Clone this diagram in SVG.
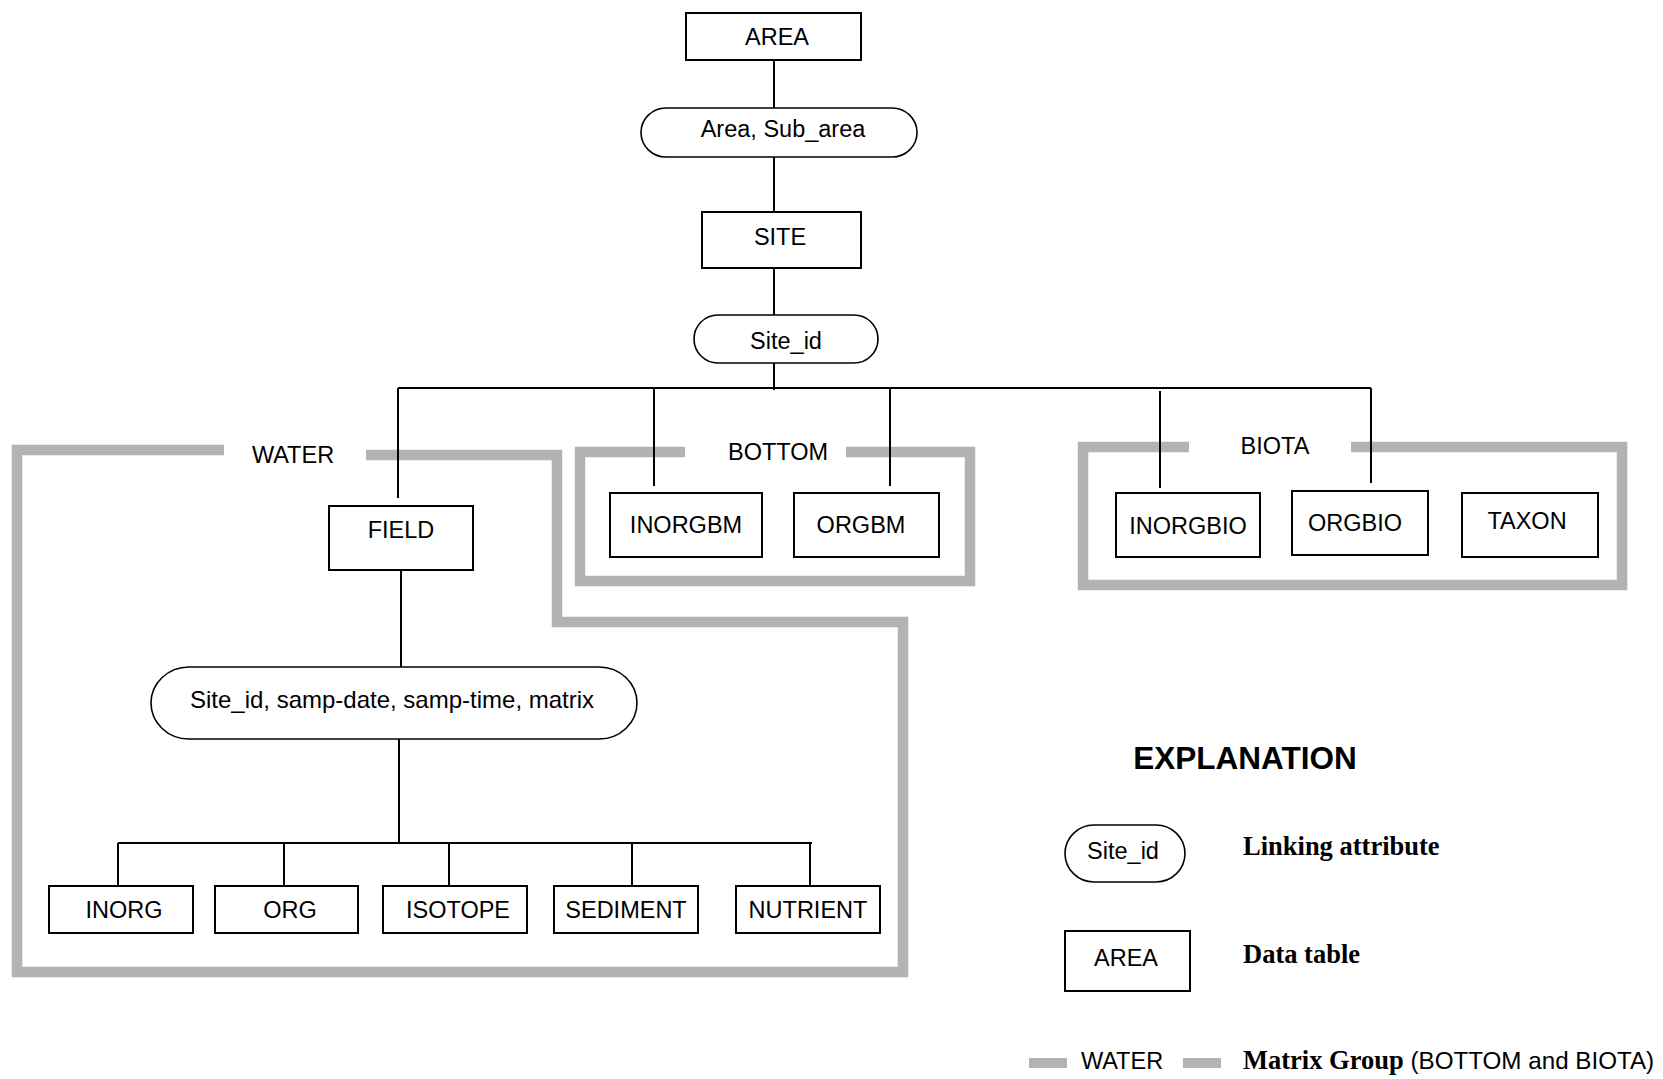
<svg xmlns="http://www.w3.org/2000/svg" width="1663" height="1079" viewBox="0 0 1663 1079">
<style>
.box{fill:#fff;stroke:#000;stroke-width:2}
.pill{fill:#fff;stroke:#000;stroke-width:1.6}
.t{font-family:"Liberation Sans",Arial,sans-serif;font-size:23.5px;fill:#000;text-anchor:middle}
.grp{fill:none;stroke:#b3b3b3;stroke-width:10.5;stroke-linejoin:miter}
.ln{fill:none;stroke:#000;stroke-width:2}
.ser{font-family:"Liberation Serif","Times New Roman",serif;font-weight:bold;fill:#000}
</style>
<rect width="1663" height="1079" fill="#fff"/>
<g id="groups">
<path class="grp" d="M224,450 H17 V972 H903 V622 H557 V455 H366"/>
<path class="grp" d="M685,452 H580 V581 H970 V452 H846"/>
<path class="grp" d="M1189,447 H1083 V585 H1622 V447 H1351"/>
<text class="t" x="293" y="463">WATER</text>
<text class="t" x="778" y="460">BOTTOM</text>
<text class="t" x="1275" y="454">BIOTA</text>
</g>
<g id="connectors">
<path class="ln" d="M774,60 V108 M774,157 V212 M774,268 V315 M774,363 V390"/>
<path class="ln" d="M398,388 H1371"/>
<path class="ln" d="M398,388 V498 M654,388 V486 M890,388 V486 M1160,391 V488 M1371,388 V483"/>
<path class="ln" d="M401,570 V667 M399,739 V843 M118,843 H812"/>
<path class="ln" d="M118,843 V886 M284,843 V886 M449,843 V886 M632,843 V886 M810,843 V886"/>
</g>
<g id="AREA"><rect class="box" x="686" y="13" width="175" height="47"/><text class="t" x="777" y="45">AREA</text></g>
<g id="link-area"><rect class="pill" x="641" y="108" width="276" height="49" rx="25" ry="24.5"/><text class="t" x="783" y="137">Area, Sub_area</text></g>
<g id="SITE"><rect class="box" x="702" y="212" width="159" height="56"/><text class="t" x="780" y="245">SITE</text></g>
<g id="link-site"><rect class="pill" x="694" y="315" width="184" height="48" rx="24" ry="24"/><text class="t" x="786" y="349">Site_id</text></g>
<g id="FIELD"><rect class="box" x="329" y="506" width="144" height="64"/><text class="t" x="401" y="538">FIELD</text></g>
<g id="link-field"><rect class="pill" x="151" y="667" width="486" height="72" rx="38" ry="36"/><text class="t" x="392" y="708" style="font-size:24px">Site_id, samp-date, samp-time, matrix</text></g>
<g id="INORG"><rect class="box" x="49" y="886" width="144" height="47"/><text class="t" x="124" y="918">INORG</text></g>
<g id="ORG"><rect class="box" x="215" y="886" width="143" height="47"/><text class="t" x="290" y="918">ORG</text></g>
<g id="ISOTOPE"><rect class="box" x="383" y="886" width="144" height="47"/><text class="t" x="458" y="918">ISOTOPE</text></g>
<g id="SEDIMENT"><rect class="box" x="554" y="886" width="144" height="47"/><text class="t" x="626" y="918">SEDIMENT</text></g>
<g id="NUTRIENT"><rect class="box" x="736" y="886" width="144" height="47"/><text class="t" x="808" y="918">NUTRIENT</text></g>
<g id="INORGBM"><rect class="box" x="610" y="493" width="152" height="64"/><text class="t" x="686" y="533">INORGBM</text></g>
<g id="ORGBM"><rect class="box" x="794" y="493" width="145" height="64"/><text class="t" x="861" y="533">ORGBM</text></g>
<g id="INORGBIO"><rect class="box" x="1116" y="493" width="144" height="64"/><text class="t" x="1188" y="534">INORGBIO</text></g>
<g id="ORGBIO"><rect class="box" x="1292" y="491" width="136" height="64"/><text class="t" x="1355" y="531">ORGBIO</text></g>
<g id="TAXON"><rect class="box" x="1462" y="493" width="136" height="64"/><text class="t" x="1527" y="529">TAXON</text></g>
<g id="explanation">
<text x="1245" y="769" style="font-family:'Liberation Sans',Arial,sans-serif;font-weight:bold;font-size:31.5px;text-anchor:middle">EXPLANATION</text>
<rect class="pill" x="1065" y="825" width="120" height="57" rx="29" ry="28.5"/>
<text class="t" x="1123" y="859">Site_id</text>
<text class="ser" x="1243" y="855" font-size="26.5">Linking attribute</text>
<rect class="box" x="1065" y="931" width="125" height="60"/>
<text class="t" x="1126" y="966">AREA</text>
<text class="ser" x="1243" y="963" font-size="26.5">Data table</text>
<path d="M1029,1063 H1067 M1183,1063 H1221" stroke="#b3b3b3" stroke-width="10"/>
<text class="t" x="1122" y="1069">WATER</text>
<text x="1243" y="1069" style="font-family:'Liberation Sans',Arial,sans-serif;font-size:24.2px"><tspan class="ser" font-size="26.5">Matrix Group</tspan> (BOTTOM and BIOTA)</text>
</g>
</svg>
